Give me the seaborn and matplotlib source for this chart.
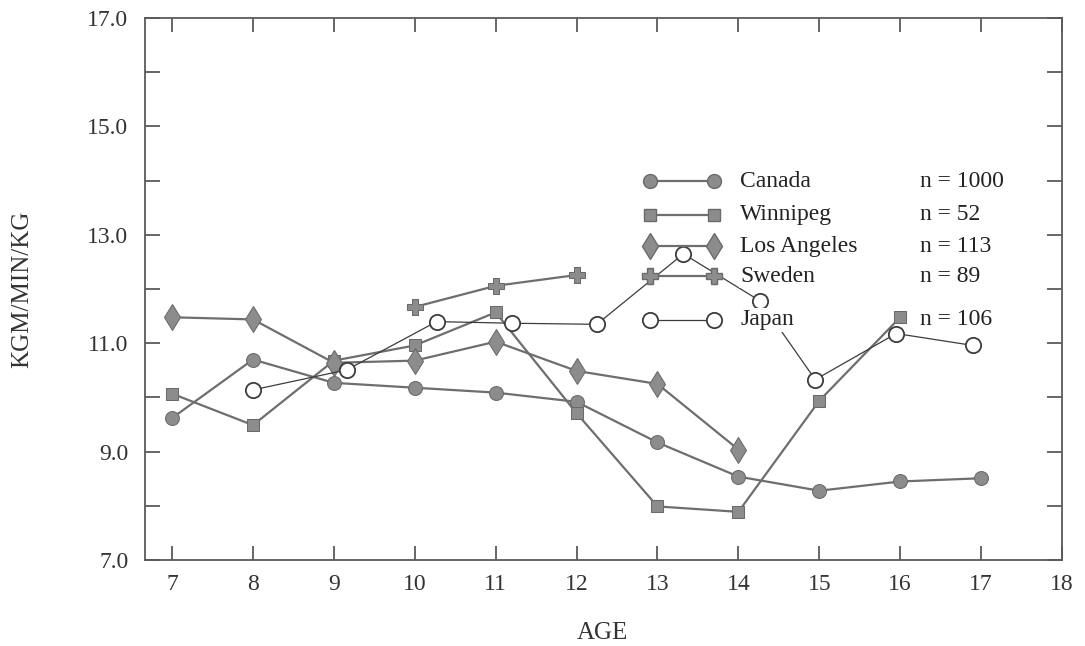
import pandas as pd
import matplotlib
matplotlib.use("Agg")
import matplotlib.pyplot as plt
import seaborn as sns

sns.set_style("white")
plt.rcParams["font.family"] = ["Liberation Serif", "DejaVu Serif"]

# data
ages = [7, 8, 9, 10, 11, 12, 13, 14, 15, 16, 17]
canada = [9.62, 10.70, 10.27, 10.18, 10.09, 9.92, 9.17, 8.54, 8.28, 8.45, 8.51]
winnipeg_ages = [7, 8, 9, 10, 11, 12, 13, 14, 15, 16]
winnipeg = [10.07, 9.49, 10.68, 10.96, 11.57, 9.71, 7.99, 7.89, 9.94, 11.48]
la_ages = [7, 8, 9, 10, 11, 12, 13, 14]
los_angeles = [11.48, 11.44, 10.64, 10.68, 11.03, 10.49, 10.25, 9.04]
sweden_ages = [10, 11, 12]
sweden = [11.67, 12.06, 12.26]
japan_ages = [8.0, 9.16, 10.27, 11.2, 12.25, 13.32, 14.27, 14.95, 15.95, 16.9]
japan = [10.14, 10.51, 11.40, 11.37, 11.35, 12.65, 11.78, 10.33, 11.18, 10.96]

names = ["Canada", "Winnipeg", "Los Angeles", "Sweden", "Japan"]
counts = ["n = 1000", "n = 52", "n = 113", "n = 89", "n = 106"]

fig = plt.figure(figsize=(10.85, 6.46), dpi=100)
ax = fig.add_axes([0.1336, 0.133, 0.8452, 0.839])

dark = "#5a5a5a"
fill = "#8c8c8c"
styles = {
    "Canada": dict(marker="o", markersize=10, color="#6e6e6e", lw=1.6,
                   markerfacecolor=fill, markeredgecolor="#6a6a6a"),
    "Winnipeg": dict(marker="s", markersize=8.5, color="#6e6e6e", lw=1.6,
                     markerfacecolor=fill, markeredgecolor="#6a6a6a"),
    "Los Angeles": dict(marker="d", markersize=13, color="#6e6e6e", lw=1.6,
                        markerfacecolor=fill, markeredgecolor="#6a6a6a"),
    "Sweden": dict(marker="P", markersize=11, color="#6e6e6e", lw=1.6,
                   markerfacecolor=fill, markeredgecolor="#6a6a6a"),
    "Japan": dict(marker="o", markersize=11, color="#3c3c3c", lw=0.9,
                  markerfacecolor="white", markeredgecolor="#3c3c3c",
                  markeredgewidth=1.3),
}
series = {
    "Canada": (ages, canada),
    "Winnipeg": (winnipeg_ages, winnipeg),
    "Los Angeles": (la_ages, los_angeles),
    "Sweden": (sweden_ages, sweden),
    "Japan": (japan_ages, japan),
}

for name in names:
    xs, ys = series[name]
    df = pd.DataFrame({"age": xs, "val": ys})
    st = dict(styles[name])
    lw = st.pop("lw")
    sns.lineplot(data=df, x="age", y="val", ax=ax, legend=False,
                 linewidth=lw, zorder=3, **st)

# hand-made legend block
leg_y = [0.699, 0.637, 0.579, 0.524, 0.443]
for name, cnt, yy in zip(names, counts, leg_y):
    st = dict(styles[name])
    lw = st.pop("lw")
    ax.plot([0.551, 0.620], [yy, yy], transform=ax.transAxes,
            linewidth=lw, zorder=3, clip_on=False, **st)
    ax.text(0.649, yy, name, transform=ax.transAxes, fontsize=17,
            va="center", ha="left", color="#222222", zorder=5,
            bbox=dict(facecolor="white", edgecolor="none", pad=1.0))
    ax.text(0.845, yy, cnt, transform=ax.transAxes,
            fontsize=17, va="center", ha="left", color="#222222", zorder=5)

ax.set_xlim(6.665, 18.0)
ax.set_ylim(7.0, 17.0)
ax.set_xticks(range(7, 19))
ax.set_xticklabels([str(a) for a in range(7, 19)])
ax.set_yticks([7, 9, 11, 13, 15, 17])
ax.set_yticklabels(["7.0", "9.0", "11.0", "13.0", "15.0", "17.0"])
ax.set_yticks(range(7, 18), minor=True)

ax.tick_params(axis="both", which="both", direction="in", colors=dark,
               labelcolor="#333333", labelsize=17, width=1.3)
ax.tick_params(axis="y", which="both", length=11, left=True, right=True, pad=12)
ax.tick_params(axis="x", which="both", length=10, bottom=True, top=True, pad=10)

for sp in ax.spines.values():
    sp.set_color(dark)
    sp.set_linewidth(1.3)
    sp.set_visible(True)

ax.set_xlabel("AGE", fontsize=18, color="#333333")
ax.set_ylabel("KGM/MIN/KG", fontsize=18, color="#333333")
ax.xaxis.set_label_coords(0.499, -0.114)
ax.yaxis.set_label_coords(-0.122, 0.5)

fig.savefig("out.png", dpi=100, facecolor="white")
